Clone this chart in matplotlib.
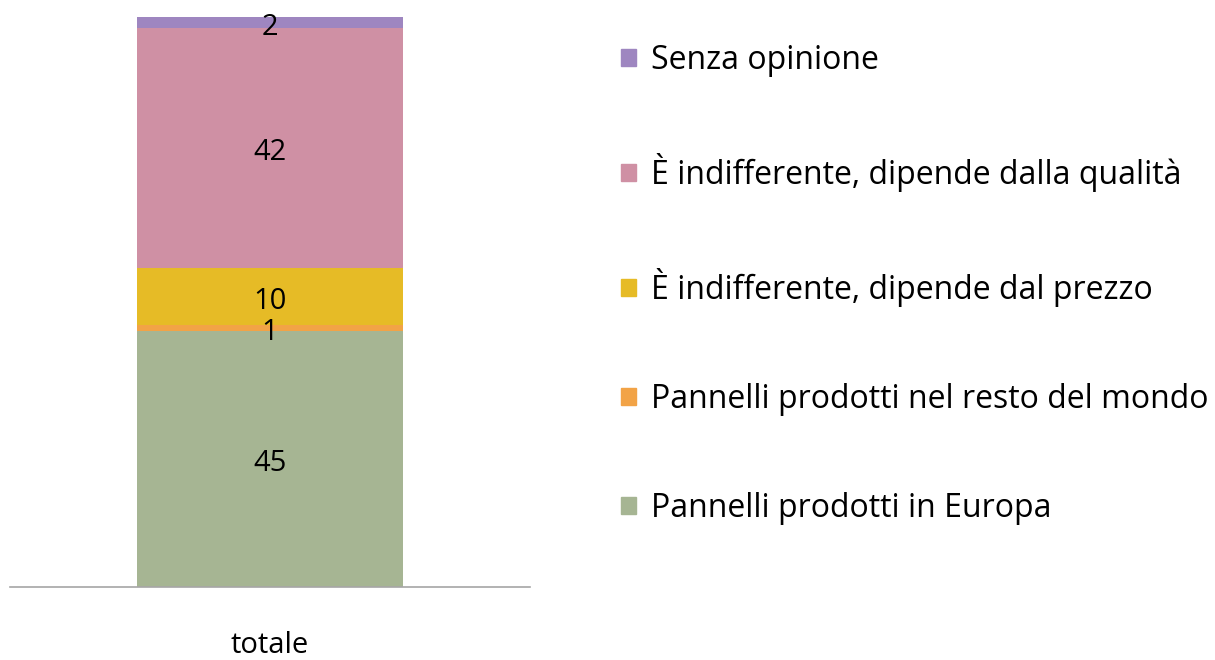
import matplotlib.pyplot as plt
from matplotlib.patches import Patch

plt.rcParams['font.family'] = ['Open Sans', 'DejaVu Sans']

category = ['totale']
labels = ['Pannelli prodotti in Europa',
          'Pannelli prodotti nel resto del mondo',
          'È indifferente, dipende dal prezzo',
          'È indifferente, dipende dalla qualità',
          'Senza opinione']
values = [45, 1, 10, 42, 2]
colors = ['#A6B593', '#F2A346', '#E6BB26', '#CF90A4', '#9E86C0']

fig = plt.figure(figsize=(12.15, 6.6), dpi=100)
ax = fig.add_axes([10 / 1215, 73 / 660, 520 / 1215, 570 / 660])

bottom = 0
for v, c in zip(values, colors):
    ax.bar(0, v, width=0.513, bottom=bottom, color=c)
    ax.annotate(str(v), (0, bottom + v / 2), xytext=(0, -3.5),
                textcoords='offset points', ha='center', va='center',
                fontsize=21)
    bottom += v

ax.set_xlim(-0.5, 0.5)
ax.set_ylim(0, 100)
ax.set_xticks([0])
ax.set_xticklabels(category, fontsize=21)
ax.tick_params(axis='x', length=0, pad=32)
ax.set_yticks([])
for s in ['top', 'right', 'left']:
    ax.spines[s].set_visible(False)
ax.spines['bottom'].set_color('#A6A6A6')
ax.spines['bottom'].set_linewidth(1.2)

handles = [Patch(color=c, label=l) for c, l in zip(colors, labels)]
fig.legend(handles[::-1], labels[::-1], loc='upper left',
           bbox_to_anchor=(608 / 1215, 1 - 31 / 660), frameon=False,
           fontsize=23, handlelength=0.48, handleheight=0.48,
           handletextpad=0.48, labelspacing=2.38, borderaxespad=0)

fig.savefig('out.png', dpi=100)
